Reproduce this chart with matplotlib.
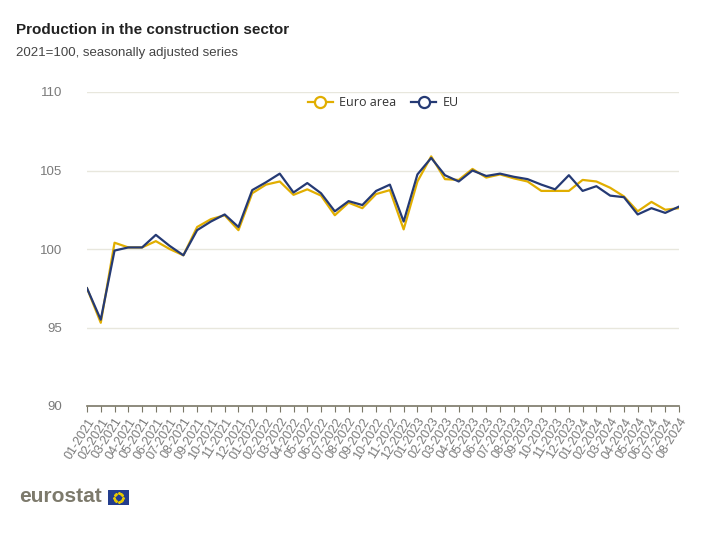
import matplotlib
matplotlib.use("Agg")
import matplotlib.pyplot as plt
from matplotlib.patches import Rectangle
from matplotlib.lines import Line2D
import numpy as np

months = [f"{m:02d}-{y}" for y in (2021, 2022, 2023, 2024) for m in range(1, 13)][:44]

euro_area = [97.5, 95.3, 100.4, 100.1, 100.1, 100.5, 100.0, 99.6, 101.4, 101.9, 102.15, 101.2,
             103.55, 104.1, 104.3, 103.45, 103.8, 103.4, 102.15, 102.95, 102.6, 103.5, 103.75, 101.25,
             104.3, 105.9, 104.45, 104.4, 105.1, 104.55, 104.75, 104.5, 104.3, 103.7, 103.7, 103.7,
             104.4, 104.3, 103.9, 103.35, 102.4, 103.0, 102.5, 102.6]
eu = [97.5, 95.5, 99.9, 100.1, 100.1, 100.9, 100.2, 99.6, 101.2, 101.75, 102.2, 101.4,
      103.75, 104.25, 104.8, 103.6, 104.2, 103.55, 102.4, 103.05, 102.8, 103.7, 104.1, 101.75,
      104.75, 105.8, 104.7, 104.3, 105.0, 104.65, 104.8, 104.6, 104.45, 104.1, 103.8, 104.7,
      103.7, 104.0, 103.4, 103.3, 102.2, 102.6, 102.3, 102.7]
y_ticks = [90, 95, 100, 105, 110]

EA_COLOR = "#E1AE00"
EU_COLOR = "#253A74"
GRID = "#E8E7DD"
AXIS = "#7A7767"
TXT = "#7A7A7A"

plt.rcParams['font.family'] = ['Liberation Sans', 'DejaVu Sans']

fig = plt.figure(figsize=(7.18, 5.33), dpi=100)
ax = fig.add_axes([87/718, 1-406/533, (679-87)/718, (406-92)/533])

x = np.arange(len(months))
ax.plot(x, euro_area, color=EA_COLOR, lw=1.6, label="Euro area", zorder=3)
ax.plot(x, eu, color=EU_COLOR, lw=1.6, label="EU", zorder=4)

ax.set_xlim(0, len(months)-1)
ax.set_ylim(90, 110)
ax.set_yticks(y_ticks)
ax.set_yticklabels([str(v) for v in y_ticks])
ax.grid(axis='y', color=GRID, lw=1)
ax.set_axisbelow(True)
for s in ['top', 'right', 'left']:
    ax.spines[s].set_visible(False)
ax.spines['bottom'].set_color(AXIS)
ax.spines['bottom'].set_linewidth(1.2)
ax.tick_params(axis='y', length=0, pad=18, labelsize=9.5, labelcolor=TXT)
ax.set_xticks(x)
ax.set_xticklabels(months, rotation=58, ha='right', rotation_mode='anchor')
ax.tick_params(axis='x', length=4, color=AXIS, labelsize=9, labelcolor=TXT, pad=3)
ax.get_ygridlines()[0].set_visible(False)

handles = [Line2D([0], [0], color=EA_COLOR, lw=1.6, marker='o', markersize=8,
                  markerfacecolor='white', markeredgewidth=1.6),
           Line2D([0], [0], color=EU_COLOR, lw=1.6, marker='o', markersize=8,
                  markerfacecolor='white', markeredgewidth=1.6)]
leg = ax.legend(handles, ["Euro area", "EU"], loc='upper center', bbox_to_anchor=(0.5, 1.022),
                ncol=2, frameon=False, fontsize=9, handlelength=2.0, columnspacing=1.2,
                handletextpad=0.5)
for t in leg.get_texts():
    t.set_color("#333333")
    t.set_fontfamily(['Open Sans', 'DejaVu Sans'])

fig.text(16/718, 1-30/533, "Production in the construction sector", fontsize=11,
         fontweight='bold', color="#222222", va='center', ha='left')
fig.text(16/718, 1-53/533, "2021=100, seasonally adjusted series", fontsize=9.5,
         color="#444444", va='center', ha='left')

# eurostat logo
fig.text(19/718, 1-497/533, "eurostat", fontsize=15, fontweight='bold', color="#7D7A6C",
         va='center', ha='left')
fax = fig.add_axes([108/718, 1-505/533, 21/718, 15/533])
fax.set_xlim(0, 21)
fax.set_ylim(0, 15)
fax.add_patch(Rectangle((0, 0), 21, 15, color="#233D8E"))
ang = np.linspace(0, 2*np.pi, 13)[:-1]
fax.scatter(10.5 + 4.5*np.cos(ang), 7.5 + 4.5*np.sin(ang), s=1.5, color="#E6C800", marker='*')
fax.axis('off')

fig.savefig("out.png", dpi=100)
